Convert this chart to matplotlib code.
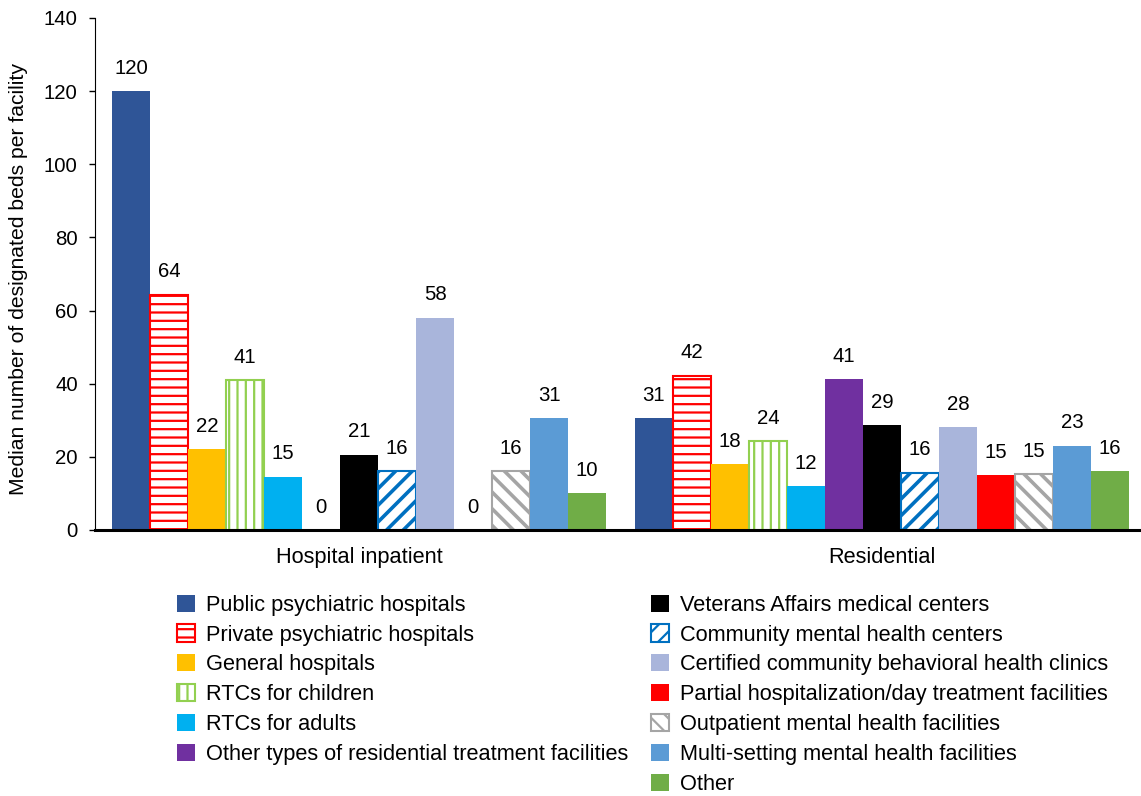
import matplotlib
matplotlib.use("Agg")
import matplotlib.pyplot as plt
from matplotlib.patches import Patch
import numpy as np

plt.rcParams['font.family'] = ['Liberation Sans', 'DejaVu Sans']
plt.rcParams['hatch.linewidth'] = 1.6

groups = ["Hospital inpatient", "Residential"]
facility_types = [
    "Public psychiatric hospitals",
    "Private psychiatric hospitals",
    "General hospitals",
    "RTCs for children",
    "RTCs for adults",
    "Other types of residential treatment facilities",
    "Veterans Affairs medical centers",
    "Community mental health centers",
    "Certified community behavioral health clinics",
    "Partial hospitalization/day treatment facilities",
    "Outpatient mental health facilities",
    "Multi-setting mental health facilities",
    "Other",
]
inpatient = [120, 64.3, 22.1, 41, 14.6, 0, 20.6, 16.1, 58, 0, 16, 30.6, 10]
residential = [30.6, 42.2, 18, 24.3, 12, 41.3, 28.6, 15.7, 28.1, 15, 15.2, 23, 16]

colors = ["#2F5597", "#FF0000", "#FFC000", "#92D050", "#00B0F0", "#7030A0",
          "#000000", "#0070C0", "#A9B5DB", "#FF0000", "#A5A5A5", "#5B9BD5", "#70AD47"]
hatches = [None, "--", None, "||", None, None, None, "//", None, None, "\\\\", None, None]
hatch_lw = [0, 1.6, 0, 1.6, 0, 0, 0, 2.6, 0, 0, 2.6, 0, 0]

fig = plt.figure(figsize=(11.41, 7.96), dpi=100)
ax_left = 95 / 1141
ax = fig.add_axes([ax_left, 0.3342, 1 - ax_left, 0.6432])

n = len(facility_types)
bw = 0.0727
x = np.arange(len(groups))
data = np.array([inpatient, residential])
handles = []
for i in range(n):
    pos = x - (n / 2) * bw + (i + 0.5) * bw
    vals = data[:, i]
    if hatches[i]:
        with plt.rc_context({'hatch.linewidth': hatch_lw[i]}):
            bars = ax.bar(pos, vals, bw, facecolor="white", edgecolor=colors[i],
                          hatch=hatches[i], linewidth=1.5)
            h = Patch(facecolor="white", edgecolor=colors[i], hatch=hatches[i], linewidth=1.5)
    else:
        bars = ax.bar(pos, vals, bw, color=colors[i], linewidth=0)
        h = Patch(facecolor=colors[i], edgecolor="none")
    handles.append(h)
    for xp, v in zip(pos, vals):
        ax.annotate(f"{v:.0f}", (xp, v), xytext=(0, 16.5), textcoords="offset points",
                    ha="center", va="center", fontsize=14.7, color="#000000")

ax.set_xlim(-0.505, 1.495)
ax.set_ylim(0, 140)
ax.set_yticks(np.arange(0, 141, 20))
ax.set_xticks(x)
ax.set_xticklabels(groups, fontsize=15.7)
ax.tick_params(axis="x", length=0, pad=12)
ax.tick_params(axis="y", labelsize=14.7, length=4.5, width=1, color="#000000",
               direction="out", pad=8)
ax.set_ylabel("Median number of designated beds per facility", fontsize=15.2)
ax.yaxis.set_label_coords(-0.064, 0.49)
for s in ["top", "right"]:
    ax.spines[s].set_visible(False)
ax.spines["left"].set_color("#000000")
ax.spines["bottom"].set_color("#000000")
ax.spines["bottom"].set_linewidth(2.2)

common = dict(loc="upper left", frameon=False, fontsize=15.7, handlelength=0.83,
              handleheight=0.83, handletextpad=0.5, labelspacing=0.40,
              borderpad=0, borderaxespad=0)
leg1 = fig.legend(handles[:6], facility_types[:6], bbox_to_anchor=(177 / 1141, 0.253), **common)
leg2 = fig.legend(handles[6:], facility_types[6:], bbox_to_anchor=(651 / 1141, 0.253), **common)

fig.savefig("out.png", dpi=100)
